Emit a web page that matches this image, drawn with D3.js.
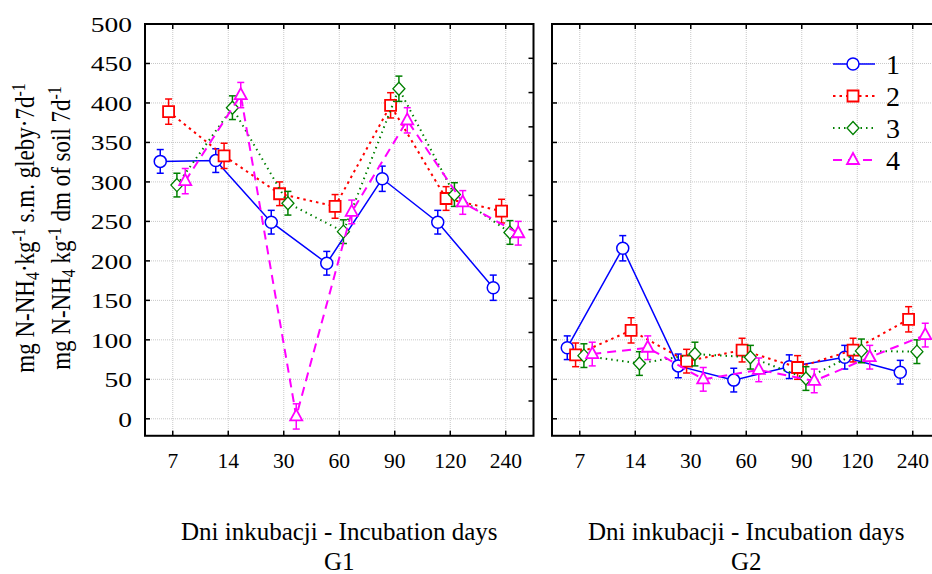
<!DOCTYPE html>
<html>
<head>
<meta charset="utf-8">
<script src="https://cdn.jsdelivr.net/npm/d3@7"></script>
<style>
  body { margin: 0; background: #fff; }
  svg, svg text { font-family: "Liberation Serif", "DejaVu Serif", "Times New Roman", Times, serif; }
</style>
</head>
<body>
<div id="chart"></div>
<script>
// incubation days (categories on x)
const days = ["7", "14", "30", "60", "90", "120", "240"];
const seriesNames = ["1", "2", "3", "4"];
const yTicks = [0, 50, 100, 150, 200, 250, 300, 350, 400, 450, 500];

// G1 values, mg N-NH4 per kg
const g1s1 = [326, 327, 249, 197, 304, 249, 166];
const g1s2 = [389, 333, 285, 269, 397, 279, 263];
const g1s3 = [296, 394, 273, 237, 418, 284, 236];
const g1s4 = [301, 410, 3, 262, 378, 274, 235];
// G2 values
const g2s1 = [90, 216, 67, 49, 66, 78, 59];
const g2s2 = [81, 112, 73, 87, 65, 87, 126];
const g2s3 = [80, 70, 82, 78, 51, 86, 85];
const g2s4 = [82, 90, 50, 62, 48, 78, 106];
// error bar half-lengths
const g1err = [
  [15, 15, 15, 15, 16, 15, 16],
  [16, 16, 15, 15, 16, 15, 15],
  [15, 15, 15, 15, 16, 15, 15],
  [16, 16, 16, 15, 16, 15, 15]
];
const g2err = [
  [15, 16, 15, 15, 15, 15, 15],
  [15, 16, 15, 15, 15, 15, 16],
  [15, 15, 15, 15, 15, 15, 15],
  [15, 15, 15, 15, 15, 15, 15]
];

const colors = ["#0000ff", "#ff0000", "#008000", "#ff00ff"];
const dashes = [null, "2.5,4", "1.5,4", "9,6"];
const FONT = '"Liberation Serif", "DejaVu Serif", "Times New Roman", serif';

const W = 932, H = 574;
const svg = d3.select("#chart").append("svg")
  .attr("width", W).attr("height", H)
  .attr("font-family", FONT)
  .style("font-family", FONT);

const y = d3.scaleLinear().domain([0, 500]).range([418.8, 24]);
const yBottom = y(-21.5);
const off = d3.scalePoint().domain(seriesNames).range([-12.5, 12.5]);

// symbols
const symbolPath = [
  null,
  "M-5.5,-5.5H5.5V5.5H-5.5Z",
  "M0,-6.5L6,0L0,6.5L-6,0Z",
  "M0,-7L6,4L-6,4Z"
];
function drawMarker(g, i, cx, cy, col) {
  if (i === 0) {
    g.append("circle").attr("cx", cx).attr("cy", cy).attr("r", 6)
      .attr("fill", "#fff").attr("stroke", col).attr("stroke-width", 1.5);
  } else {
    g.append("path").attr("d", symbolPath[i])
      .attr("transform", `translate(${cx},${cy})`)
      .attr("fill", "#fff").attr("stroke", col).attr("stroke-width", i === 2 ? 1.3 : 1.8);
  }
}

function panel(x0, x1, data, errs, title, sub, rightTicks) {
  const x = d3.scaleBand().domain(days).range([x0, x1]);
  const cxOf = d => x(d) + x.bandwidth() / 2;
  const g = svg.append("g");

  // grid
  g.selectAll(".hg").data(yTicks).enter().append("line")
    .attr("x1", x0).attr("x2", x1).attr("y1", d => y(d)).attr("y2", d => y(d))
    .attr("stroke", "#c8c8c8").attr("stroke-dasharray", "1,1");
  g.selectAll(".vg").data(days).enter().append("line")
    .attr("x1", cxOf).attr("x2", cxOf).attr("y1", y(500)).attr("y2", yBottom)
    .attr("stroke", "#c8c8c8").attr("stroke-dasharray", "1,1");

  // inward ticks
  g.selectAll(".lt").data(yTicks).enter().append("line")
    .attr("x1", x0).attr("x2", x0 + 5).attr("y1", d => y(d)).attr("y2", d => y(d))
    .attr("stroke", "#000").attr("stroke-width", 1.5);
  g.selectAll(".bt").data(days).enter().append("line")
    .attr("x1", cxOf).attr("x2", cxOf).attr("y1", yBottom).attr("y2", yBottom - 5)
    .attr("stroke", "#000").attr("stroke-width", 1.5);
  g.selectAll(".tt").data(days).enter().append("line")
    .attr("x1", cxOf).attr("x2", cxOf).attr("y1", y(500)).attr("y2", y(500) + 5)
    .attr("stroke", "#000").attr("stroke-width", 1.5);
  if (rightTicks) {
    const yr = d3.scaleLinear().domain([0, 10]).range([401, 58.3]);
    g.selectAll(".rt").data(d3.range(0, 11)).enter().append("line")
      .attr("x1", x1).attr("x2", x1 - 5).attr("y1", d => yr(d)).attr("y2", d => yr(d))
      .attr("stroke", "#000").attr("stroke-width", 1.5);
  }

  // x tick labels
  g.selectAll(".xl").data(days).enter().append("text")
    .attr("x", cxOf).attr("y", 467.5).attr("text-anchor", "middle")
    .attr("font-size", 21.5).text(d => d);

  // series
  data.forEach((vals, i) => {
    const col = colors[i];
    const pts = days.map((d, j) => [cxOf(d) + off(seriesNames[i]), y(vals[j])]);
    const sg = g.append("g");
    sg.append("path").datum(pts)
      .attr("d", d3.line().x(p => p[0]).y(p => p[1]))
      .attr("fill", "none").attr("stroke", col).attr("stroke-width", i === 0 ? 1.5 : 2)
      .attr("stroke-dasharray", dashes[i]);
    pts.forEach((p, j) => {
      const e = errs[i][j];
      const yt = y(vals[j] + e), yb = y(vals[j] - e);
      sg.append("line").attr("x1", p[0]).attr("x2", p[0]).attr("y1", yt).attr("y2", yb)
        .attr("stroke", col).attr("stroke-width", 1.5);
      [yt, yb].forEach(yy => sg.append("line")
        .attr("x1", p[0] - 3.5).attr("x2", p[0] + 3.5).attr("y1", yy).attr("y2", yy)
        .attr("stroke", col).attr("stroke-width", 1.5));
      drawMarker(sg, i, p[0], p[1], col);
    });
  });

  // frame
  g.append("rect").attr("x", x0).attr("y", y(500))
    .attr("width", x1 - x0).attr("height", yBottom - y(500))
    .attr("fill", "none").attr("stroke", "#000").attr("stroke-width", 2);

  // titles
  const mid = (x0 + x1) / 2;
  g.append("text").attr("x", mid).attr("y", 540).attr("text-anchor", "middle")
    .attr("font-size", 25).text(title);
  g.append("text").attr("x", mid).attr("y", 570).attr("text-anchor", "middle")
    .attr("font-size", 25).text(sub);
  return g;
}

panel(145, 533.5, [g1s1, g1s2, g1s3, g1s4], g1err, "Dni inkubacji - Incubation days", "G1", true);
panel(552, 940.5, [g2s1, g2s2, g2s3, g2s4], g2err, "Dni inkubacji - Incubation days", "G2", false);

// y tick labels (horizontally stretched, as in the source)
svg.selectAll(".yl").data(yTicks).enter().append("text")
  .attr("transform", d => `translate(132,${y(d) + 8}) scale(1.25,1)`)
  .attr("text-anchor", "end")
  .attr("font-size", 22).text(d => d);

// y axis title (two lines)
function yTitle(xPos, parts) {
  const t = svg.append("text")
    .attr("transform", `translate(${xPos},228) rotate(-90) scale(1,1.2)`)
    .attr("text-anchor", "middle").attr("font-size", 23);
  parts.forEach(p => {
    const ts = t.append("tspan").text(p[0]);
    if (p[1] === "sub") ts.attr("baseline-shift", "-25%").attr("font-size", 16);
    if (p[1] === "sup") ts.attr("baseline-shift", "45%").attr("font-size", 16);
  });
}
yTitle(34, [["mg N-NH"], ["4", "sub"], ["\u00b7kg"], ["-1", "sup"], [" s.m. gleby\u00b77d"], ["-1", "sup"]]);
yTitle(70, [["mg N-NH"], ["4", "sub"], [" kg"], ["-1", "sup"], [" dm of soil 7d"], ["-1", "sup"]]);

// legend
const leg = svg.append("g");
seriesNames.forEach((s, i) => {
  const ly = 64 + i * 32;
  leg.append("line").attr("x1", 833).attr("x2", 875).attr("y1", ly).attr("y2", ly)
    .attr("stroke", colors[i]).attr("stroke-width", i === 0 ? 1.5 : 2)
    .attr("stroke-dasharray", dashes[i]);
  drawMarker(leg, i, 853, ly, colors[i]);
  leg.append("text").attr("x", 886).attr("y", ly + 9.5).attr("font-size", 28).text(s);
});
</script>
</body>
</html>
